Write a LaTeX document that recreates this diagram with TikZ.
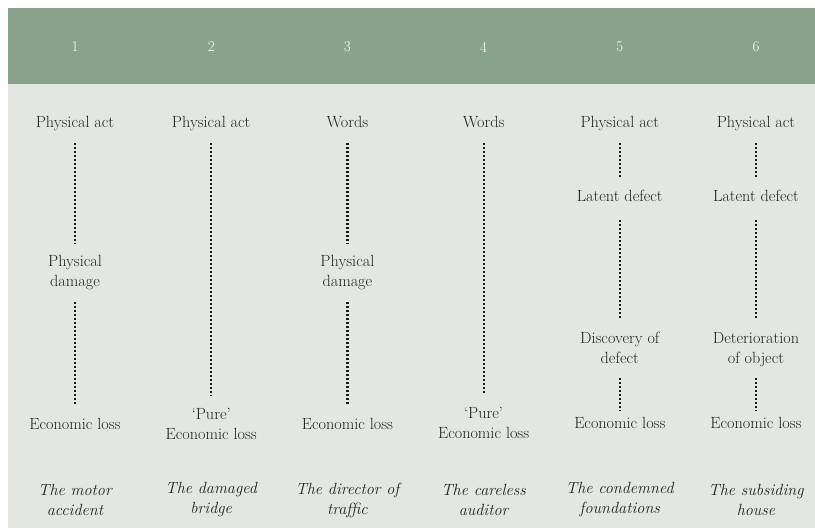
\documentclass[tikz,border=0pt]{standalone}
\usepackage{fontspec}
\definecolor{hdr}{HTML}{88A38A}
\definecolor{bgc}{HTML}{E3E7E0}
\definecolor{txtc}{HTML}{222222}
\definecolor{dotc}{HTML}{1A1A1A}
\begin{document}
\begin{tikzpicture}[x=1pt,y=-1pt,
  lbl/.style={font=\fontsize{16.2}{20}\selectfont, text=txtc, align=center, inner xsep=1pt, inner ysep=9pt},
  ttl/.style={font=\fontsize{16.2}{20}\selectfont\itshape, text=txtc, align=center},
  num/.style={font=\fontsize{15}{18}\selectfont, text=white},
  link/.style={draw=dotc, line width=2.2pt, dash pattern=on 2pt off 2pt}]
\useasboundingbox (0,0) rectangle (815,532);
\fill[bgc] (8,84) rectangle (815,528);
\fill[hdr] (8,8) rectangle (815,84);
% header numbers
\foreach \i/\x in {1/75,2/211.2,3/347.4,4/483.6,5/619.8,6/756}
  \node[num] (n\i) at (\x,47) {\i};
% column 1
\node[lbl] (a1) at (75,124) {\strut Physical act};
\node[lbl] (b1) at (75,273) {\strut Physical\\\strut damage};
\node[lbl] (c1) at (75,425) {\strut Economic loss};
\node[ttl] (t1) at (75,500) {The motor\\accident};
\draw[link] (a1) -- (b1);
\draw[link] (b1) -- (c1);
% column 2
\node[lbl] (a2) at (211.2,124) {\strut Physical act};
\node[lbl] (c2) at (211.2,425) {\strut `Pure'\\\strut Economic loss};
\node[ttl] (t2) at (211.2,500) {The damaged\\bridge};
\draw[link] (a2) -- (c2);
% column 3
\node[lbl] (a3) at (347.4,124) {\strut Words};
\node[lbl] (b3) at (347.4,273) {\strut Physical\\\strut damage};
\node[lbl] (c3) at (347.4,425) {\strut Economic loss};
\node[ttl] (t3) at (347.4,500) {The director of\\traffic};
\draw[link] (a3) -- (b3);
\draw[link] (b3) -- (c3);
% column 4
\node[lbl] (a4) at (483.6,124) {\strut Words};
\node[lbl] (c4) at (483.6,424) {\strut `Pure'\\\strut Economic loss};
\node[ttl] (t4) at (483.6,500) {The careless\\auditor};
\draw[link] (a4) -- (c4);
% column 5
\node[lbl] (a5) at (619.8,124) {\strut Physical act};
\node[lbl] (b5) at (619.8,198) {\strut Latent defect};
\node[lbl] (d5) at (619.8,349) {\strut Discovery of\\\strut defect};
\node[lbl] (c5) at (619.8,424) {\strut Economic loss};
\node[ttl] (t5) at (619.8,500) {The condemned\\foundations};
\draw[link] (a5) -- (b5);
\draw[link,shorten <=3pt] (b5) -- (d5);
\draw[link,shorten >=-6pt] (d5) -- (c5);
% column 6
\node[lbl] (a6) at (756,124) {\strut Physical act};
\node[lbl] (b6) at (756,198) {\strut Latent defect};
\node[lbl] (d6) at (756,349) {\strut Deterioration\\\strut of object};
\node[lbl] (c6) at (756,424) {\strut Economic loss};
\node[ttl] (t6) at (756,500) {The subsiding\\house};
\draw[link] (a6) -- (b6);
\draw[link,shorten <=3pt] (b6) -- (d6);
\draw[link,shorten >=-6pt] (d6) -- (c6);
\end{tikzpicture}
\end{document}
